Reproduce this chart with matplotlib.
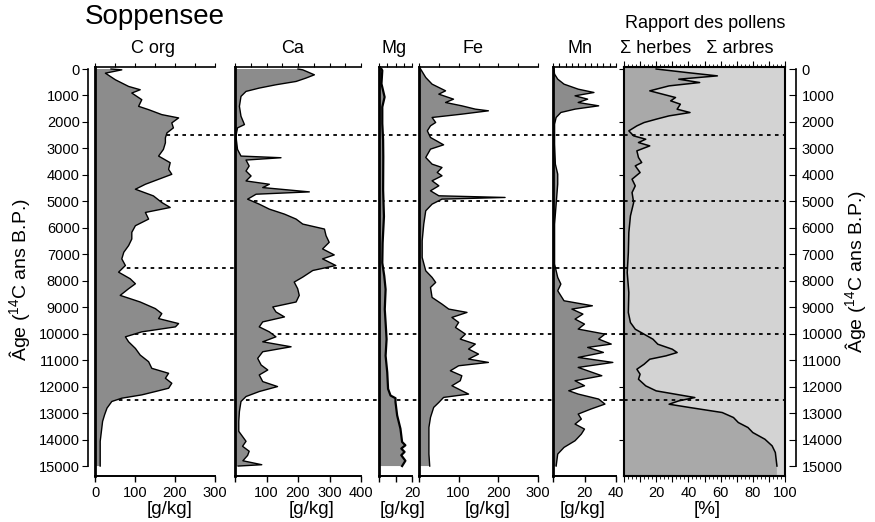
import numpy as np
import matplotlib
matplotlib.use('Agg')
import matplotlib.pyplot as plt
import matplotlib.transforms as mtrans
from matplotlib.lines import Line2D

plt.rcParams['font.family'] = ['Liberation Sans', 'DejaVu Sans']
plt.rcParams['mathtext.fontset'] = 'custom'
plt.rcParams['mathtext.rm'] = 'Liberation Sans'
plt.rcParams['mathtext.it'] = 'Liberation Sans:italic'

# ---------------- data (ages in 14C yr B.P.) ----------------
corg_age = [0, 31, 157, 407, 658, 783, 908, 1159, 1410, 1535, 1723, 1848, 2036, 2224, 2412,
            2600, 2788, 3038, 3289, 3540, 3790, 3978, 4166, 4354, 4542, 4793, 5043, 5231, 5419,
            5670, 5920, 6171, 6422, 6672, 6923, 7173, 7424, 7675, 7925, 8113, 8301, 8552, 8802,
            9053, 9241, 9429, 9617, 9742, 9930, 10118, 10306, 10556, 10807, 11058, 11308, 11496,
            11684, 11872, 12060, 12185, 12311, 12436, 12561, 12812, 13062, 13313, 13689, 14065,
            14441, 15000]
corg_val = [40, 67, 26, 51, 84, 113, 92, 117, 109, 134, 167, 209, 192, 196, 180,
            176, 176, 171, 159, 188, 184, 192, 159, 126, 101, 146, 167, 188, 126,
            134, 101, 92, 92, 84, 72, 67, 76, 59, 88, 101, 84, 63, 113,
            151, 167, 159, 209, 201, 117, 76, 84, 101, 113, 134, 142, 184,
            176, 192, 184, 151, 117, 67, 42, 30, 24, 19, 16, 13, 13, 13]

ca_age = [0, 31, 219, 344, 470, 595, 720, 846, 1034, 1410, 1785, 2099, 2224, 2537, 3038,
          3289, 3352, 3439, 3665, 3853, 4041, 4229, 4354, 4479, 4642, 4730, 4918, 5106, 5294,
          5482, 5670, 5858, 6046, 6296, 6547, 6797, 7023, 7173, 7424, 7612, 7862, 8050, 8301,
          8552, 8802, 8990, 9178, 9366, 9554, 9742, 9930, 10118, 10306, 10494, 10682, 10932,
          11183, 11371, 11559, 11809, 11997, 12185, 12373, 12561, 12937, 13313, 13689, 14065,
          14253, 14441, 14600, 14800, 14950, 15000]
ca_val = [200, 215, 252, 225, 194, 130, 77, 35, 19, 14, 19, 30, 8, 3, 8,
          19, 146, 35, 45, 35, 51, 35, 109, 88, 236, 67, 40, 77, 109,
          157, 194, 215, 284, 289, 299, 278, 315, 278, 320, 247, 215, 188, 199,
          204, 194, 120, 130, 157, 88, 77, 109, 130, 88, 178, 88, 72,
          83, 104, 77, 88, 135, 77, 35, 19, 14, 12, 12, 35,
          24, 45, 40, 25, 85, 10]

mg_age = [0, 56, 557, 1059, 1435, 2061, 2688, 3314, 4567, 5569, 6572, 7323, 7825, 8326, 9078,
          9579, 10206, 10832, 11459, 12085, 12336, 12436, 12586, 13087, 13338, 13589, 13839,
          14090, 14215, 14340, 14466, 14591, 14800, 15000]
mg_val = [1.5, 2, 1.5, 3.4, 2, 2, 2.5, 2.6, 2.5, 3, 2.2, 2, 3.2, 4, 3.5,
          4, 4.6, 4, 5, 5.5, 7, 10, 10, 11, 12, 13, 13.5,
          14, 16, 13.5, 15.5, 13.5, 16, 14]

fe_age = [0, 320, 572, 824, 950, 1139, 1265, 1391, 1516, 1579, 1705, 1831, 2020, 2146, 2335,
          2587, 2864, 3027, 3342, 3594, 3720, 3909, 4034, 4223, 4412, 4601, 4790, 4853, 4916,
          5105, 5356, 5860, 6490, 7119, 7623, 7874, 8063, 8252, 8630, 8882, 9070, 9196, 9385,
          9574, 9763, 10015, 10204, 10392, 10581, 10770, 10959, 11085, 11211, 11400, 11588,
          11777, 11966, 12155, 12281, 12407, 12596, 12785, 13162, 13540, 14044, 14547, 15000]
fe_val = [4, 17, 33, 67, 50, 87, 67, 108, 142, 175, 108, 33, 42, 29, 21,
          29, 62, 29, 17, 33, 58, 46, 58, 33, 50, 29, 50, 217, 58,
          33, 17, 12, 8, 8, 17, 33, 42, 29, 33, 58, 75, 121, 83,
          100, 92, 117, 104, 142, 125, 150, 125, 175, 100, 79, 108,
          104, 83, 108, 125, 62, 50, 37, 29, 25, 25, 25, 27]

mn_age = [0, 195, 383, 572, 761, 887, 1013, 1139, 1265, 1391, 1516, 1642, 1831, 2083, 2838,
          3594, 3972, 4349, 5105, 5860, 7371, 7874, 8126, 8378, 8756, 8945, 9070, 9259, 9448,
          9637, 9826, 10015, 10204, 10392, 10518, 10707, 10896, 11085, 11274, 11588, 11777,
          11966, 12155, 12281, 12470, 12659, 12848, 13036, 13225, 13414, 13603, 13792, 14044,
          14295, 14547, 15000]
mn_val = [0.5, 1, 3, 7, 16, 26, 14, 22, 16, 29, 14, 5, 2, 1, 1,
          1.5, 3, 3, 2, 1, 1, 3, 5, 3, 7, 25, 12, 19, 14,
          20, 16, 33, 29, 37, 22, 32, 16, 38, 16, 31, 14,
          20, 10, 16, 29, 33, 24, 16, 18, 14, 20, 18, 14,
          7, 3, 2]

pol_age = [0, 133, 259, 385, 511, 637, 825, 951, 1077, 1203, 1329, 1518, 1644, 1770, 1896,
           2022, 2148, 2337, 2526, 2652, 2778, 2904, 3092, 3344, 3533, 3659, 3911, 4163, 4415,
           4667, 5044, 5548, 6178, 6934, 7689, 8445, 9200, 9578, 9830, 10019, 10208, 10397,
           10586, 10712, 10838, 10964, 11153, 11342, 11531, 11720, 11971, 12160, 12286, 12412,
           12538, 12664, 12790, 12978, 13167, 13356, 13545, 13734, 13986, 14237, 14489, 15000]
pol_herbs = [20, 39, 58, 34, 47, 28, 16, 24, 32, 29, 35, 33, 41, 28, 20,
             12.5, 8, 3, 6, 13.5, 9, 16, 8, 9, 11, 7, 10, 5, 7,
             5, 6, 4, 3, 2.7, 2, 3, 2.7, 4, 7, 12.5, 18, 21,
             30, 33, 26, 16, 12.5, 8, 10, 9, 13.5, 20, 32, 44,
             34, 28, 41, 61, 68, 71, 77, 80, 87.5, 92, 94, 95]

zone_ages = [2500, 5000, 7500, 10000, 12500]
age_ticks = list(range(0, 15001, 1000))

# ---------------- layout ----------------
W, H = 875, 522
fig = plt.figure(figsize=(W / 100, H / 100), dpi=100)
TOP, BOT = 67, 476
AGE_TOP, AGE_BOT = -76, 15376
FILL = '#8c8c8c'
TICK_FS = 10.5


def rect(x0, x1):
    return [x0 / W, 1 - BOT / H, (x1 - x0) / W, (BOT - TOP) / H]


def chem_panel(x0, x1, xmax, ages, vals, top_step, bot_ticks, bot_labels, lw=1.0):
    ax = fig.add_axes(rect(x0, x1))
    ax.set_xlim(0, xmax)
    ax.set_ylim(AGE_BOT, AGE_TOP)
    ax.set_facecolor('none')
    ax.fill_betweenx(ages, 0, vals, facecolor=FILL, edgecolor='none', zorder=2)
    ax.plot(vals, ages, color='k', lw=lw, zorder=3)
    for s in ['right', 'top']:
        ax.spines[s].set_visible(False)
    ax.spines['left'].set_linewidth(2.0)
    ax.spines['bottom'].set_linewidth(1.4)
    ax.tick_params(axis='y', left=False, labelleft=False)
    ax.set_xticks(bot_ticks)
    ax.set_xticklabels(bot_labels)
    ax.tick_params(axis='x', direction='out', length=4, width=1, labelsize=TICK_FS, pad=3)
    sec = ax.secondary_xaxis('top')
    sec.set_xticks(np.arange(0, xmax + 1e-6, top_step))
    sec.tick_params(axis='x', direction='out', length=3, width=0.8, labeltop=False)
    sec.spines['top'].set_linewidth(1.2)
    return ax


ax_c = chem_panel(95, 215, 300, corg_age, corg_val, 50, [0, 100, 200, 300], ['0', '100', '200', '300'])
ax_ca = chem_panel(235, 361, 400, ca_age, ca_val, 50, [0, 100, 200, 300, 400], ['', '100', '200', '300', '400'])
ax_mg = chem_panel(379, 412, 20, mg_age, mg_val, 5, [0, 10, 20], ['', '', '20'], lw=1.6)
ax_fe = chem_panel(419, 538, 300, fe_age, fe_val, 50, [0, 100, 200, 300], ['', '100', '200', '300'])
ax_mn = chem_panel(553, 616, 40, mn_age, mn_val, 4, [0, 20, 40], ['', '20', '40'])

# left age axis
ax_age = fig.add_axes(rect(95, 215), sharey=ax_c)
ax_age.set_facecolor('none')
for s in ['right', 'top', 'bottom']:
    ax_age.spines[s].set_visible(False)
ax_age.spines['left'].set_position(('outward', 5))
ax_age.spines['left'].set_bounds(0, 15000)
ax_age.spines['left'].set_linewidth(1.2)
ax_age.xaxis.set_visible(False)
ax_age.set_yticks(age_ticks)
ax_age.tick_params(axis='y', direction='out', length=4, labelsize=TICK_FS, pad=2)
ax_age.set_ylim(AGE_BOT, AGE_TOP)

# pollen panel
ax_p = fig.add_axes(rect(624, 785))
ax_p.set_xlim(0, 100)
ax_p.set_ylim(AGE_BOT, AGE_TOP)
pa = np.concatenate([[AGE_TOP], pol_age, [AGE_BOT]])
ph = np.concatenate([[pol_herbs[0]], pol_herbs, [pol_herbs[-1]]])
ax_p.fill_betweenx(pa, 0, ph, facecolor='#a9a9a9', edgecolor='none', zorder=1)
ax_p.fill_betweenx(pa, ph, 100, facecolor='#d3d3d3', edgecolor='none', zorder=1)
ax_p.plot(pol_herbs, pol_age, color='k', lw=1.1, zorder=3)
for a in zone_ages:
    ax_p.axhline(a, color='k', lw=1.3, ls=(0, (2, 2.4)), zorder=4)
for s in ax_p.spines.values():
    s.set_linewidth(1.5)
ax_p.tick_params(axis='y', left=False, labelleft=False)
ax_p.set_xticks(np.arange(0, 101, 10))
ax_p.set_xticklabels(['' if v % 20 or v == 0 else str(v) for v in range(0, 101, 10)])
ax_p.set_xticks(np.arange(0, 101, 2.5), minor=True)
ax_p.tick_params(axis='x', which='major', direction='out', length=4, labelsize=TICK_FS, pad=3)
ax_p.tick_params(axis='x', which='minor', direction='out', length=2)
ax_p.tick_params(axis='x', which='both', top=True)
ax_p.tick_params(axis='x', which='major', top=True, labeltop=False)

# right age axis
ax_r = ax_p.twinx()
ax_r.set_ylim(AGE_BOT, AGE_TOP)
for s in ['left', 'top', 'bottom']:
    ax_r.spines[s].set_visible(False)
ax_r.spines['right'].set_position(('outward', 8))
ax_r.spines['right'].set_bounds(0, 15000)
ax_r.spines['right'].set_linewidth(1.2)
ax_r.set_yticks(age_ticks)
ax_r.tick_params(axis='y', direction='in', length=5, labelsize=TICK_FS, pad=4)

# dotted zone lines across panels (behind the filled profiles)
tr = mtrans.blended_transform_factory(fig.transFigure, ax_c.transData)
for a in zone_ages:
    fig.add_artist(Line2D([95 / W, 785 / W], [a, a], transform=tr, color='k', lw=1.3,
                          ls=(0, (2, 2.4)), zorder=-1))

# ---------------- texts ----------------
fig.text(85 / W, 1 - 24 / H, 'Soppensee', fontsize=20, ha='left', va='baseline')
for name, xc in [('C org', 153), ('Ca', 293), ('Mg', 394), ('Fe', 473), ('Mn', 580)]:
    fig.text(xc / W, 1 - 53 / H, name, fontsize=13, ha='center', va='baseline')
fig.text(705 / W, 1 - 28 / H, 'Rapport des pollens', fontsize=13, ha='center', va='baseline')
fig.text(697 / W, 1 - 53 / H, '\u03a3 herbes   \u03a3 arbres', fontsize=13, ha='center', va='baseline')
for lab, xc in [('[g/kg]', 170), ('[g/kg]', 312), ('[g/kg]', 403), ('[g/kg]', 488),
                ('[g/kg]', 583), ('[%]', 707)]:
    fig.text(xc / W, 1 - 510 / H, lab, fontsize=13.5, ha='center', va='center')
ylab = '\u00c2ge ($^{14}$C ans B.P.)'
fig.text(20 / W, 1 - 280 / H, ylab, fontsize=14, rotation=90, ha='center', va='center')
fig.text(856 / W, 1 - 272 / H, ylab, fontsize=14, rotation=90, ha='center', va='center')

fig.savefig('out.png', dpi=100)
